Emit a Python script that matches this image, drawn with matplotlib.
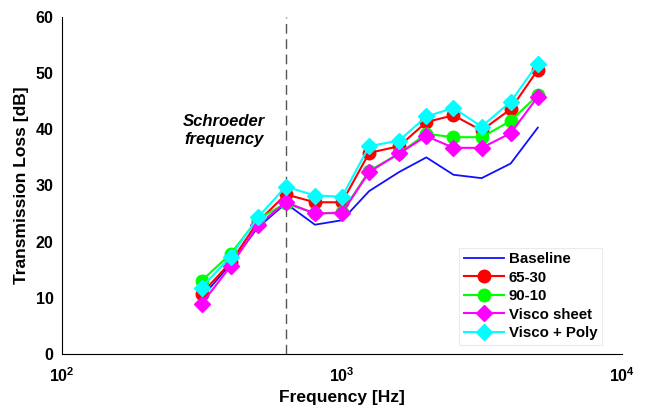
import numpy as np
import matplotlib.pyplot as plt

plt.rcParams['font.family'] = ['Liberation Sans', 'DejaVu Sans']
plt.rcParams['font.weight'] = 'bold'
plt.rcParams['mathtext.fontset'] = 'custom'
plt.rcParams['mathtext.bf'] = 'Liberation Sans:bold'
plt.rcParams['mathtext.rm'] = 'Liberation Sans:bold'
plt.rcParams['mathtext.default'] = 'bf'

# 1/3 octave band centre frequencies [Hz]
freq = [315, 400, 500, 630, 800, 1000, 1250, 1600, 2000, 2500, 3150, 4000, 5000]

# transmission loss [dB]
baseline = [10.0, 16.0, 22.5, 26.8, 23.0, 23.8, 29.0, 32.4, 35.0, 31.9, 31.3, 33.9, 40.3]
tl_6530 = [10.7, 16.3, 23.5, 28.4, 27.0, 27.0, 35.8, 37.0, 41.3, 42.5, 39.8, 43.6, 50.6]
tl_9010 = [13.0, 17.8, 24.0, 26.8, 25.0, 25.2, 32.6, 35.7, 39.2, 38.6, 38.6, 41.5, 46.1]
visco = [8.9, 15.6, 22.9, 27.0, 25.0, 25.1, 32.4, 35.7, 38.8, 36.7, 36.7, 39.3, 45.8]
visco_poly = [11.8, 17.3, 24.3, 29.8, 28.2, 28.0, 37.0, 38.0, 42.3, 43.8, 40.5, 44.9, 51.7]

schroeder = 630
xticks = [1e2, 1e3, 1e4]
xticklabels = [r'$10^{2}$', r'$10^{3}$', r'$10^{4}$']
yticks = [0, 10, 20, 30, 40, 50, 60]


def main():
    fig = plt.figure(figsize=(6.48, 4.08), dpi=100)
    ax = fig.add_axes([0.0957, 0.133, 0.8643, 0.825])

    ax.plot(freq, baseline, color='#1010ff', lw=1.3, label='Baseline')
    ax.plot(freq, tl_6530, color='#ff0000', lw=1.5, marker='o', ms=9, label='65-30')
    ax.plot(freq, tl_9010, color='#00ff00', lw=1.5, marker='o', ms=9, label='90-10')
    ax.plot(freq, visco, color='#ff00ff', lw=1.5, marker='D', ms=8, label='Visco sheet')
    ax.plot(freq, visco_poly, color='#00ffff', lw=1.5, marker='D', ms=8, label='Visco + Poly')

    ax.axvline(schroeder, color='#555555', lw=1.0, ls=(0, (7, 4)), zorder=0)
    ax.text(378, 39.8, 'Schroeder\nfrequency', ha='center', va='center',
            fontsize=12, fontweight='bold', fontstyle='italic')

    ax.set_xscale('log')
    ax.set_xlim(1e2, 1e4)
    ax.set_ylim(0, 60)
    ax.set_xticks(xticks)
    ax.set_xticklabels(xticklabels)
    ax.minorticks_off()
    ax.set_yticks(yticks)
    ax.tick_params(length=0, labelsize=11.5)
    ax.tick_params(axis='y', pad=6)
    ax.tick_params(axis='x', pad=9)

    for side in ['top', 'right']:
        ax.spines[side].set_visible(False)

    ax.set_xlabel('Frequency [Hz]', fontsize=12.5, fontweight='bold', labelpad=4)
    ax.set_ylabel('Transmission Loss [dB]', fontsize=12.5, fontweight='bold', labelpad=5)

    leg = ax.legend(loc='lower right', fontsize=10.8, frameon=True, fancybox=False,
                    handlelength=2.7, handletextpad=0.3, borderpad=0.3,
                    labelspacing=0.3, borderaxespad=0,
                    bbox_to_anchor=(0.964, 0.027))
    leg.get_frame().set_edgecolor('#e6e6e6')
    leg.get_frame().set_linewidth(0.8)

    fig.savefig('out.png', dpi=100)


main()
